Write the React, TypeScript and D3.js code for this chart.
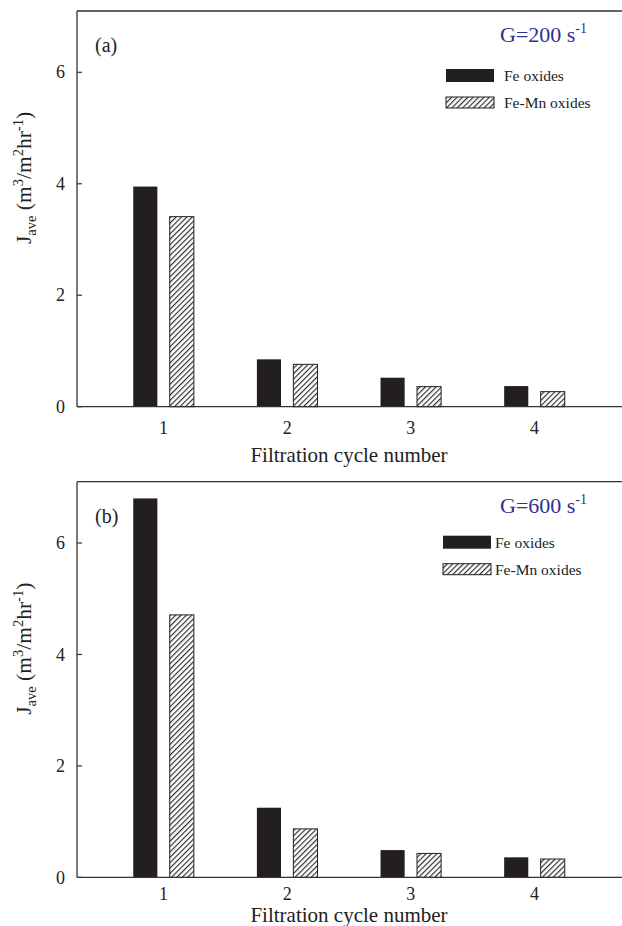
import React from 'react';
import { scaleLinear } from 'd3';

// values
const cycles = [1, 2, 3, 4];
const feA = [3.95, 0.85, 0.52, 0.37];
const femnA = [3.41, 0.76, 0.36, 0.27];
const feB = [6.8, 1.25, 0.49, 0.36];
const femnB = [4.71, 0.87, 0.43, 0.33];
const yTicks = [0, 2, 4, 6];
const xLabel = 'Filtration cycle number';
const legendLabels = ['Fe oxides', 'Fe-Mn oxides'];

const width = 622;
const height = 926;
const left = 77;
const right = 621;
const plotHeight = 395.7;
const font = '"Liberation Serif", "Times New Roman", serif';
const axisColor = '#333';
const ink = '#231f20';

const xScale = scaleLinear().domain([0.3, 4.7]).range([left, right]);

const Panel = ({ top, fe, femn, tag, g, legendX, legendY, legendGap, tickDy, labelDy }) => {
    const yScale = scaleLinear().domain([0, 7.1]).range([top + plotHeight, top]);
    const y0 = yScale(0);
    return (
        <g>
            {/* frame: top + left + bottom, right edge is clipped by image */}
            <line x1={left} x2={width} y1={top} y2={top} stroke={axisColor} strokeWidth={1.3} />
            <line x1={left} x2={left} y1={top} y2={y0} stroke={axisColor} strokeWidth={1.3} />

            {cycles.map((c, i) => (
                <g key={c}>
                    <rect
                        x={xScale(c - 0.245)}
                        y={yScale(fe[i])}
                        width={xScale(c - 0.05) - xScale(c - 0.245)}
                        height={y0 - yScale(fe[i])}
                        fill={ink}
                    />
                    <rect
                        x={xScale(c + 0.05)}
                        y={yScale(femn[i])}
                        width={xScale(c + 0.245) - xScale(c + 0.05)}
                        height={y0 - yScale(femn[i])}
                        fill="url(#hatch)"
                        stroke={ink}
                        strokeWidth={1}
                    />
                    <text x={xScale(c)} y={y0 + tickDy} textAnchor="middle" fontSize={18} fill="#222">
                        {c}
                    </text>
                </g>
            ))}

            <line x1={left} x2={width} y1={y0} y2={y0} stroke={axisColor} strokeWidth={1.3} />

            {yTicks.map(t => (
                <g key={t} transform={`translate(0,${yScale(t)})`}>
                    <line x1={left} x2={left + 5} stroke={axisColor} strokeWidth={1.2} />
                    <text x={left - 12} dy=".34em" textAnchor="end" fontSize={18} fill="#222">
                        {t}
                    </text>
                </g>
            ))}

            <text
                transform={`translate(31,${top + 167}) rotate(-90)`}
                textAnchor="middle"
                fontSize={21.5}
                fill="#222"
            >
                J<tspan fontSize={14.5} dy="5">ave</tspan>
                <tspan dy="-5"> (m</tspan>
                <tspan fontSize={14.5} dy="-8">3</tspan>
                <tspan dy="8">/m</tspan>
                <tspan fontSize={14.5} dy="-8">2</tspan>
                <tspan dy="8">hr</tspan>
                <tspan fontSize={14.5} dy="-8">-1</tspan>
                <tspan dy="8">)</tspan>
            </text>

            <text x={xScale(2.5)} y={y0 + labelDy} textAnchor="middle" fontSize={21} fill="#222">
                {xLabel}
            </text>

            <text x={95} y={top + 41} fontSize={20} fill="#222">
                {tag}
            </text>

            <text x={500} y={top + 31} fontSize={22} fill="#2e3192">
                {g} s<tspan fontSize={14} dy="-9">-1</tspan>
            </text>

            {/* legend */}
            <rect x={legendX} y={top + legendY} width={48} height={13} fill={ink} />
            <text x={legendX + legendGap} y={top + legendY + 12} fontSize={15.5} fill="#222">
                {legendLabels[0]}
            </text>
            <rect
                x={legendX}
                y={top + legendY + 28}
                width={48}
                height={11}
                fill="url(#hatch)"
                stroke={ink}
                strokeWidth={1}
            />
            <text x={legendX + legendGap} y={top + legendY + 39} fontSize={15.5} fill="#222">
                {legendLabels[1]}
            </text>
        </g>
    );
};

export default function App() {
    return (
        <svg
            width={width}
            height={height}
            fontFamily={font}
            style={{ position: 'absolute', left: 0, top: 0, background: '#fff' }}
        >
            <defs>
                <pattern
                    id="hatch"
                    width={3.8}
                    height={3.8}
                    patternUnits="userSpaceOnUse"
                    patternTransform="rotate(45)"
                >
                    <rect width={3.8} height={3.8} fill="#fff" />
                    <line x1={0.6} y1={0} x2={0.6} y2={3.8} stroke={ink} strokeWidth={1.1} />
                </pattern>
            </defs>
            <Panel
                top={11}
                fe={feA}
                femn={femnA}
                tag="(a)"
                g="G=200"
                legendX={446}
                legendY={58}
                legendGap={58}
                tickDy={27.5}
                labelDy={55}
            />
            <Panel
                top={481.7}
                fe={feB}
                femn={femnB}
                tag="(b)"
                g="G=600"
                legendX={443}
                legendY={54}
                legendGap={52}
                tickDy={22.5}
                labelDy={45}
            />
        </svg>
    );
}
